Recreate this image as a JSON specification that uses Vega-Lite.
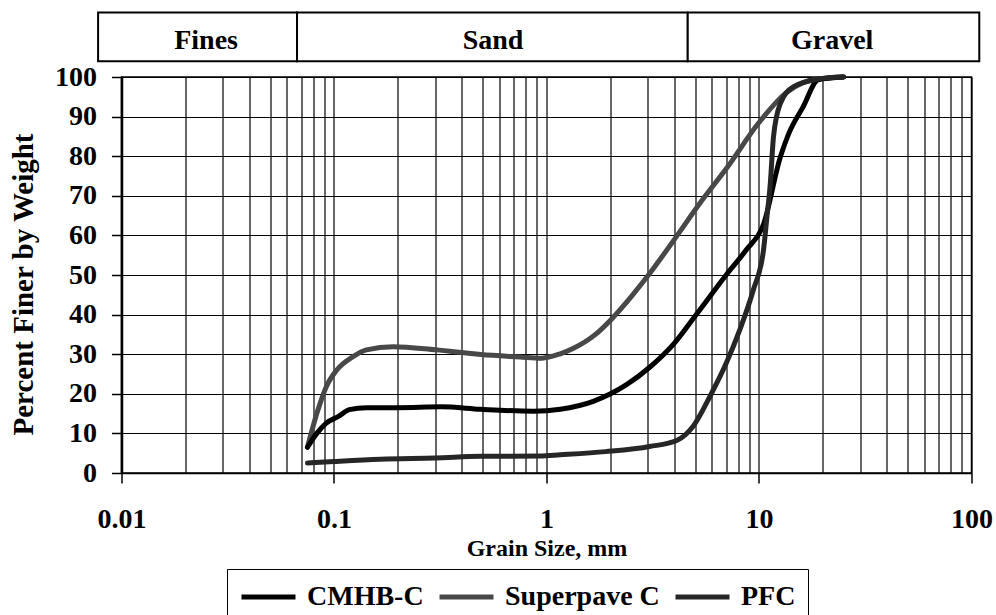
{
  "$schema": "https://vega.github.io/schema/vega-lite/v6.json",
  "width": 850,
  "height": 396,
  "autosize": {"type": "none"},
  "padding": {"left": 121.5, "top": 77, "right": 24.5, "bottom": 142},
  "background": "white",
  "resolve": {"axis": {"x": "independent", "y": "independent"}},
  "config": {
    "view": {"stroke": "black", "strokeWidth": 1.5},
    "font": "Liberation Serif",
    "axis": {
      "domainColor": "black",
      "tickColor": "black",
      "gridColor": "black",
      "gridOpacity": 1,
      "gridWidth": 1.2,
      "labelColor": "black",
      "titleColor": "black",
      "labelFont": "Liberation Serif",
      "titleFont": "Liberation Serif",
      "labelFontWeight": "bold",
      "titleFontWeight": "bold"
    }
  },
  "layer": [
    {
      "data": {"values": [
        {"mix": "Superpave C", "size": 0.075, "pct": 6.5},
        {"mix": "Superpave C", "size": 0.083, "pct": 15},
        {"mix": "Superpave C", "size": 0.092, "pct": 21.8},
        {"mix": "Superpave C", "size": 0.103, "pct": 26},
        {"mix": "Superpave C", "size": 0.123, "pct": 29.4},
        {"mix": "Superpave C", "size": 0.142, "pct": 31.1},
        {"mix": "Superpave C", "size": 0.19, "pct": 31.9},
        {"mix": "Superpave C", "size": 0.3, "pct": 31.1},
        {"mix": "Superpave C", "size": 0.49, "pct": 29.9},
        {"mix": "Superpave C", "size": 0.75, "pct": 29.3},
        {"mix": "Superpave C", "size": 0.95, "pct": 29.0},
        {"mix": "Superpave C", "size": 1.16, "pct": 30.1},
        {"mix": "Superpave C", "size": 1.34, "pct": 31.5},
        {"mix": "Superpave C", "size": 1.7, "pct": 35},
        {"mix": "Superpave C", "size": 2.0, "pct": 38.6},
        {"mix": "Superpave C", "size": 2.5, "pct": 44.5},
        {"mix": "Superpave C", "size": 3.0, "pct": 49.8},
        {"mix": "Superpave C", "size": 4.0, "pct": 59},
        {"mix": "Superpave C", "size": 5.3, "pct": 68.3},
        {"mix": "Superpave C", "size": 7.05, "pct": 77},
        {"mix": "Superpave C", "size": 10.0, "pct": 88.5},
        {"mix": "Superpave C", "size": 13.4, "pct": 96},
        {"mix": "Superpave C", "size": 16, "pct": 98.5},
        {"mix": "Superpave C", "size": 19, "pct": 99.5},
        {"mix": "Superpave C", "size": 25, "pct": 100},
        {"mix": "CMHB-C", "size": 0.075, "pct": 6.5},
        {"mix": "CMHB-C", "size": 0.083, "pct": 10},
        {"mix": "CMHB-C", "size": 0.092, "pct": 12.6},
        {"mix": "CMHB-C", "size": 0.105, "pct": 14.3},
        {"mix": "CMHB-C", "size": 0.118, "pct": 16},
        {"mix": "CMHB-C", "size": 0.142, "pct": 16.5},
        {"mix": "CMHB-C", "size": 0.2, "pct": 16.5},
        {"mix": "CMHB-C", "size": 0.32, "pct": 16.7},
        {"mix": "CMHB-C", "size": 0.49, "pct": 16.1},
        {"mix": "CMHB-C", "size": 0.87, "pct": 15.6},
        {"mix": "CMHB-C", "size": 1.16, "pct": 16.1},
        {"mix": "CMHB-C", "size": 1.66, "pct": 18.1},
        {"mix": "CMHB-C", "size": 2.38, "pct": 22.3},
        {"mix": "CMHB-C", "size": 3.06, "pct": 26.7},
        {"mix": "CMHB-C", "size": 4.0, "pct": 32.8},
        {"mix": "CMHB-C", "size": 5.1, "pct": 40.2},
        {"mix": "CMHB-C", "size": 7.05, "pct": 50.2},
        {"mix": "CMHB-C", "size": 8.7, "pct": 56.3},
        {"mix": "CMHB-C", "size": 10.5, "pct": 62.8},
        {"mix": "CMHB-C", "size": 12.6, "pct": 79.8},
        {"mix": "CMHB-C", "size": 13.8, "pct": 85.7},
        {"mix": "CMHB-C", "size": 16.1, "pct": 92.4},
        {"mix": "CMHB-C", "size": 19, "pct": 99.3},
        {"mix": "CMHB-C", "size": 25, "pct": 100},
        {"mix": "PFC", "size": 0.075, "pct": 2.5},
        {"mix": "PFC", "size": 0.1, "pct": 2.9},
        {"mix": "PFC", "size": 0.165, "pct": 3.5},
        {"mix": "PFC", "size": 0.3, "pct": 3.8},
        {"mix": "PFC", "size": 0.49, "pct": 4.2},
        {"mix": "PFC", "size": 0.93, "pct": 4.3},
        {"mix": "PFC", "size": 1.16, "pct": 4.6},
        {"mix": "PFC", "size": 1.9, "pct": 5.4},
        {"mix": "PFC", "size": 3.06, "pct": 6.7},
        {"mix": "PFC", "size": 4.1, "pct": 8.2},
        {"mix": "PFC", "size": 4.9, "pct": 11.8},
        {"mix": "PFC", "size": 5.9, "pct": 19.5},
        {"mix": "PFC", "size": 7.05, "pct": 28},
        {"mix": "PFC", "size": 8.1, "pct": 36},
        {"mix": "PFC", "size": 9.4, "pct": 46.2},
        {"mix": "PFC", "size": 10.5, "pct": 56.3},
        {"mix": "PFC", "size": 10.9, "pct": 64.7},
        {"mix": "PFC", "size": 11.3, "pct": 73},
        {"mix": "PFC", "size": 11.7, "pct": 84.9},
        {"mix": "PFC", "size": 12.6, "pct": 93.3},
        {"mix": "PFC", "size": 14.5, "pct": 97.5},
        {"mix": "PFC", "size": 19, "pct": 99.5},
        {"mix": "PFC", "size": 25, "pct": 100}
      ]},
      "mark": {"type": "line", "strokeWidth": 5, "interpolate": "monotone", "strokeCap": "round", "strokeJoin": "round", "clip": false},
      "encoding": {
        "x": {
          "field": "size", "type": "quantitative",
          "scale": {"type": "log", "domain": [0.01, 100], "nice": false},
          "axis": {
            "orient": "bottom",
            "title": "Grain Size, mm",
            "titleFontSize": 24,
            "titlePadding": 3,
            "values": [0.01, 0.02, 0.03, 0.04, 0.05, 0.06, 0.07, 0.08, 0.09, 0.1, 0.2, 0.3, 0.4, 0.5, 0.6, 0.7, 0.8, 0.9, 1, 2, 3, 4, 5, 6, 7, 8, 9, 10, 20, 30, 40, 50, 60, 70, 80, 90, 100],
            "labelExpr": "indexof([0.01, 0.1, 1, 10, 100], datum.value) >= 0 ? '' + datum.value : ''",
            "labelFontSize": 28,
            "labelPadding": 22,
            "labelFlush": false,
            "labelOverlap": false,
            "tickSize": {"condition": {"test": "indexof([0.01, 0.1, 1, 10, 100], datum.value) >= 0", "value": 10}, "value": 0},
            "tickWidth": 1.5,
            "domainWidth": 1.5,
            "grid": true
          }
        },
        "y": {
          "field": "pct", "type": "quantitative",
          "scale": {"domain": [0, 100], "nice": false},
          "axis": {
            "orient": "left",
            "title": "Percent Finer by Weight",
            "titleFontSize": 29,
            "titlePadding": 16,
            "titleY": 207,
            "values": [0, 10, 20, 30, 40, 50, 60, 70, 80, 90, 100],
            "labelFontSize": 28,
            "labelPadding": 15,
            "tickSize": 10,
            "tickWidth": 1.5,
            "domainWidth": 2.5,
            "grid": true
          }
        },
        "color": {
          "field": "mix", "type": "nominal",
          "scale": {"domain": ["CMHB-C", "Superpave C", "PFC"], "range": ["#000000", "#484848", "#262626"]},
          "legend": {
            "title": null,
            "orient": "none",
            "legendX": 105.5,
            "legendY": 492,
            "direction": "horizontal",
            "symbolType": "M-1,0H3",
            "symbolSize": 729,
            "symbolStrokeWidth": 5,
            "labelFont": "Liberation Serif",
            "labelFontSize": 28,
            "labelFontWeight": "bold",
            "labelColor": "black",
            "labelLimit": 300,
            "labelOffset": 36,
            "columnPadding": 5,
            "padding": 12,
            "strokeColor": "black",
            "fillColor": "white"
          }
        }
      }
    },
    {
      "data": {"values": [
        {"zone": "Fines", "from": 0.00776, "to": 0.067},
        {"zone": "Sand", "from": 0.067, "to": 4.62},
        {"zone": "Gravel", "from": 4.62, "to": 108.8}
      ]},
      "mark": {"type": "rect", "fill": "white", "stroke": "black", "strokeWidth": 2, "clip": false},
      "encoding": {
        "x": {"field": "from", "type": "quantitative", "scale": {"type": "log", "domain": [0.01, 100], "nice": false}, "axis": null},
        "x2": {"field": "to"},
        "y": {"datum": 116.3, "type": "quantitative", "scale": {"domain": [0, 100], "nice": false}, "axis": null},
        "y2": {"datum": 104}
      }
    },
    {
      "data": {"values": [
        {"zone": "Fines", "mid": 0.025},
        {"zone": "Sand", "mid": 0.56},
        {"zone": "Gravel", "mid": 22.1}
      ]},
      "mark": {"type": "text", "font": "Liberation Serif", "fontSize": 28, "fontWeight": "bold", "color": "black", "align": "center", "baseline": "alphabetic", "clip": false},
      "encoding": {
        "x": {"field": "mid", "type": "quantitative", "scale": {"type": "log", "domain": [0.01, 100], "nice": false}, "axis": null},
        "y": {"datum": 107, "type": "quantitative", "scale": {"domain": [0, 100], "nice": false}, "axis": null},
        "text": {"field": "zone"}
      }
    }
  ]
}
